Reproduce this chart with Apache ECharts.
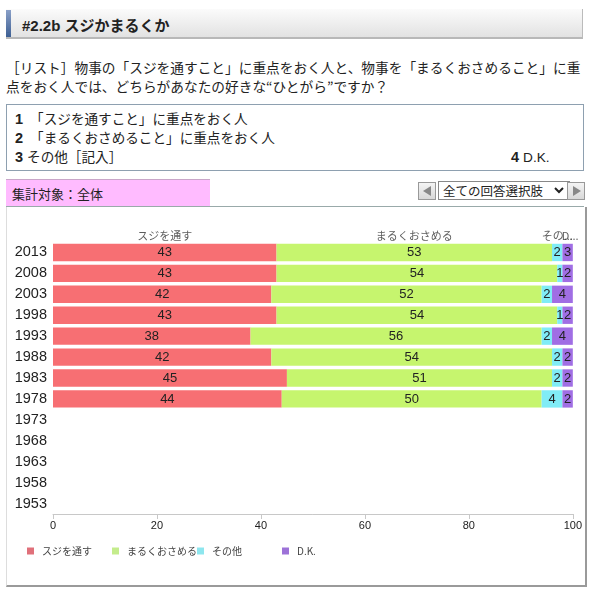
<!DOCTYPE html>
<html>
<head>
<meta charset="utf-8">
<script src="https://cdn.jsdelivr.net/npm/echarts@6/dist/echarts.min.js"></script>
<style>
  body { margin: 0; width: 590px; height: 592px; background: #fff; position: relative; overflow: hidden;
         font-family: "Liberation Sans", "Noto Sans CJK JP", sans-serif; color: #222; }
  .jp { font-family: "Noto Sans CJK JP", sans-serif; }
  #titleBar { position: absolute; left: 6px; top: 9px; width: 576px; height: 28px;
    background: linear-gradient(#fbfbfb, #e2e2e2); border-right: 1px solid #bbb; border-bottom: 2px solid #b8b8b8; }
  #titleBar .accent { position: absolute; left: 0; top: 1px; width: 5px; height: 27px;
    background: linear-gradient(#8aa0c8, #3d5f93); }
  #titleBar .txt { position: absolute; left: 16px; top: 5px; font-size: 15px; font-weight: bold; color: #222; }
  #question { position: absolute; left: 6px; top: 58px; width: 584px; font-size: 13.7px; line-height: 19px; }
  #choices { position: absolute; left: 6px; top: 104px; width: 576px; height: 65px; border: 1px solid #8ea0b0; font-size: 13.6px; }
  #choices div { position: absolute; left: 8px; }
  #choices b { font-family: "Liberation Sans", sans-serif; font-size: 14.5px; margin-right: 4px; }
  #target { position: absolute; left: 6px; top: 179px; width: 204px; height: 27px; background: #ffbbff;
    border-top: 1px solid #c9a6c9; font-size: 13px; line-height: 27px; padding-left: 6px; box-sizing: border-box; }
  .btn { position: absolute; top: 182px; width: 16px; height: 16px; border: 1px solid #999; background: linear-gradient(#f4f4f4, #d8d8d8); }
  .btn span { position: absolute; top: 3px; width: 0; height: 0; border-top: 5px solid transparent; border-bottom: 5px solid transparent; }
  #sel { position: absolute; left: 438px; top: 181px; width: 126px; height: 17px; border: 1px solid #888; background: #fff;
    font-size: 12.5px; line-height: 17px; padding-left: 4px; box-sizing: content-box; }
  #sel svg { position: absolute; right: 5px; top: 5px; }
  #sep { position: absolute; left: 6px; top: 206px; width: 578px; height: 1px; background: #9aa; }
  #panel { position: absolute; left: 6px; top: 207px; width: 578px; height: 378px;
    border-left: 1px solid #ddd; border-right: 2px solid #9a9a9a; border-bottom: 2px solid #9a9a9a; }
  #chart { position: absolute; left: 0; top: 0; width: 578px; height: 378px; }
</style>
</head>
<body>
<div id="titleBar"><div class="accent"></div><div class="txt">#2.2b <span class="jp">スジかまるくか</span></div></div>
<div id="question" class="jp">［リスト］物事の「スジを通すこと」に重点をおく人と、物事を「まるくおさめること」に重<br>点をおく人では、どちらがあなたの好きな“ひとがら”ですか？</div>
<div id="choices" class="jp">
  <div style="top:3px"><b>1</b> 「スジを通すこと」に重点をおく人</div>
  <div style="top:22px"><b>2</b> 「まるくおさめること」に重点をおく人</div>
  <div style="top:41px"><b>3</b>その他［記入］</div>
  <div style="top:41px; left:504px"><b>4</b><span style="font-family:'Liberation Sans'">D.K.</span></div>
</div>
<div id="target" class="jp">集計対象：全体</div>
<div class="btn" style="left:418px"><span style="left:4px; border-right:8px solid #888"></span></div>
<div id="sel" class="jp">全ての回答選択肢<svg width="10" height="7"><polyline points="1,1 5,5 9,1" fill="none" stroke="#222" stroke-width="2"/></svg></div>
<div class="btn" style="left:567px"><span style="left:5px; border-left:8px solid #888"></span></div>
<div id="sep"></div>
<div id="panel"><div id="chart"></div></div>

<script>
const years = ['2013', '2008', '2003', '1998', '1993', '1988', '1983', '1978', '1973', '1968', '1963', '1958', '1953'];
const seriesNames = ['スジを通す', 'まるくおさめる', 'その他', 'D.K.'];
const headerLabels = ['スジを通す', 'まるくおさめる', 'その...', 'D...'];
const sujiValues = [43, 43, 42, 43, 38, 42, 45, 44, '-', '-', '-', '-', '-'];
const maruValues = [53, 54, 52, 54, 56, 54, 51, 50, '-', '-', '-', '-', '-'];
const otherValues = [2, 1, 2, 1, 2, 2, 2, 4, '-', '-', '-', '-', '-'];
const dkValues = [3, 2, 4, 2, 4, 2, 2, 2, '-', '-', '-', '-', '-'];
const xTicks = [0, 20, 40, 60, 80, 100];

const colors = ['#f76f73', '#c6f56e', '#80ecf6', '#a06ee4'];
const legendColors = ['#e0707a', '#c4ec8c', '#8ee6ee', '#9d72d8'];
const allValues = [sujiValues, maruValues, otherValues, dkValues];

const chart = echarts.init(document.getElementById('chart'));

// column headers sit above the first row, centred on each segment
let cum = 0;
const headerData = allValues.map((vals, i) => {
  const v = vals[0];
  const mid = cum + v / 2;
  cum += v;
  return { value: [mid, years[0]], label: { formatter: headerLabels[i] } };
});

const barSeries = allValues.map((vals, i) => ({
  name: seriesNames[i],
  type: 'bar',
  stack: 'total',
  barCategoryGap: '17%',
  data: vals,
  itemStyle: { color: colors[i] },
  label: {
    show: true,
    position: 'inside',
    color: '#222',
    fontSize: 13,
    fontFamily: 'Liberation Sans',
    formatter: p => (p.value === '-' ? '' : p.value)
  }
}));

// one legend per item so the entries are evenly spaced like the original
const legends = seriesNames.map((n, i) => ({
  left: 15 + i * 85,
  top: 334,
  icon: 'rect',
  itemWidth: 7,
  itemHeight: 7,
  itemGap: 0,
  data: [{ name: n, itemStyle: { color: legendColors[i] } }],
  textStyle: { fontSize: 10, color: '#444', padding: [0, 0, 0, 3] }
}));

chart.setOption({
  animation: false,
  textStyle: { fontFamily: '"Noto Sans CJK JP", "Liberation Sans", sans-serif' },
  grid: { left: 46, right: 12, top: 35, bottom: 71 },
  legend: legends,
  xAxis: {
    type: 'value',
    min: 0,
    max: 100,
    interval: 20,
    splitLine: { show: false },
    axisLine: { show: true, lineStyle: { color: '#c8c8c8' } },
    axisTick: { show: true, length: 5, lineStyle: { color: '#c8c8c8' } },
    axisLabel: { color: '#222', fontSize: 11, fontFamily: 'Liberation Sans', margin: 6,
      formatter: v => (xTicks.includes(v) ? v : '') }
  },
  yAxis: {
    type: 'category',
    data: years,
    inverse: true,
    axisLine: { show: false },
    axisTick: { show: false },
    axisLabel: { color: '#222', fontSize: 14.5, fontFamily: 'Liberation Sans', margin: 6 }
  },
  series: [
    ...barSeries,
    {
      type: 'scatter',
      symbolSize: 0,
      silent: true,
      z: 5,
      data: headerData,
      label: { show: true, position: 'top', distance: 11, color: '#333', fontSize: 11 }
    }
  ]
});
</script>
</body>
</html>
